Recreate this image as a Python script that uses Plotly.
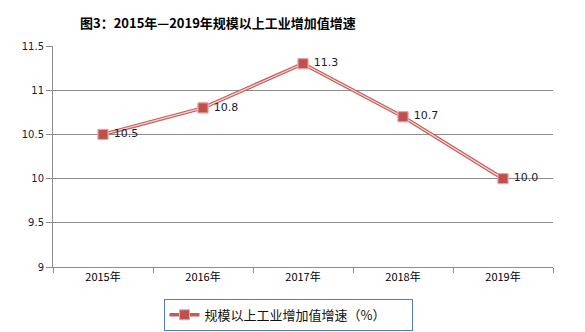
import plotly.graph_objects as go

years = ["2015年", "2016年", "2017年", "2018年", "2019年"]
growth = [10.5, 10.8, 11.3, 10.7, 10.0]
series_name = "规模以上工业增加值增速（%）"
title_text = "图3：2015年—2019年规模以上工业增加值增速"

dark_red = "#C0504D"
pale_red = "#F4D3D2"
grid = "#8C8C8C"
cjk = "Noto Sans CJK SC"

fig = go.Figure()

# Outer stroke of the double line (also supplies the legend entry)
fig.add_trace(go.Scatter(
    x=years, y=growth, mode="lines+markers",
    name=series_name + "\u00a0" * 7,
    line=dict(color="#C65B58", width=3.6),
    marker=dict(symbol="square", size=10, color=dark_red,
                line=dict(color="#E8A9A7", width=1)),
    showlegend=True, hoverinfo="skip", cliponaxis=False,
))
# Pale inner stroke
fig.add_trace(go.Scatter(
    x=years, y=growth, mode="lines",
    line=dict(color=pale_red, width=1.3),
    showlegend=False, hoverinfo="skip", cliponaxis=False,
))
# Markers and value labels on top
fig.add_trace(go.Scatter(
    x=years, y=growth, mode="markers+text",
    marker=dict(symbol="square", size=10, color=dark_red,
                line=dict(color="#E8A9A7", width=1)),
    texttemplate="\u00a0%{y:.1f}", textposition="middle right",
    textfont=dict(family="DejaVu Sans", size=11, color="#1a1a2e"),
    showlegend=False, cliponaxis=False,
))

fig.update_layout(
    width=585, height=332,
    margin=dict(l=53, r=32, t=46, b=65),
    paper_bgcolor="white", plot_bgcolor="white",
    font=dict(family=cjk),
    showlegend=True,
    legend=dict(
        orientation="h", x=0.47, xanchor="center",
        yref="container", y=0.1, yanchor="top",
        bordercolor="#4F81BD", borderwidth=1,
        font=dict(family=cjk, size=13, color="#111111"),
        itemwidth=30,
    ),
    annotations=[dict(
        text="<b>" + title_text + "</b>", xref="paper", yref="paper",
        x=0.05, y=1.0, xanchor="left", yanchor="bottom", yshift=12,
        showarrow=False, font=dict(family=cjk, size=13, color="#000000"),
    )],
)

fig.update_xaxes(
    type="category", tickson="boundaries", range=[-0.5, 4.5],
    showgrid=False, showline=True, linecolor=grid, linewidth=1,
    ticks="outside", ticklen=5, tickcolor=grid,
    tickfont=dict(family=cjk, size=11, color="#000000"),
)
fig.update_yaxes(
    range=[9, 11.5], dtick=0.5, tickmode="linear",
    showgrid=True, gridcolor=grid, gridwidth=1,
    showline=True, linecolor=grid, linewidth=1,
    ticks="outside", ticklen=6, tickcolor=grid,
    tickfont=dict(family="DejaVu Sans", size=10, color="#1a1a3a"),
    zeroline=False,
)

fig.write_html("out.html")
